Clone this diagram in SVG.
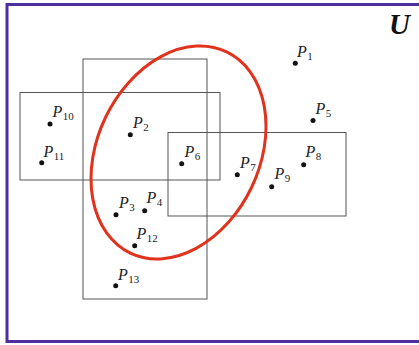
<svg xmlns="http://www.w3.org/2000/svg" width="419" height="345" viewBox="0 0 419 345">
<style>
.frame{fill:none;stroke:#4b2f9f;stroke-width:3}
.box{fill:none;stroke:#555;stroke-width:1}
.ell{fill:none;stroke:#e0321c;stroke-width:3}
.dot{fill:#111}
.lbl{font-family:"Liberation Serif",serif;font-size:16px;fill:#222}
.lbl .v{font-style:italic}
.lbl .s{font-size:11px}
.u{font-family:"Liberation Serif",serif;font-size:29px;font-weight:bold;font-style:italic;fill:#111}
</style>
<rect width="419" height="345" fill="#fff"/>
<rect class="frame" x="7" y="4.5" width="430" height="337"/>
<text class="u" x="389" y="34">U</text>
<g id="sets">
<rect id="setA" class="box" x="20" y="92.5" width="200" height="87.5"/>
<rect id="setB" class="box" x="83" y="59" width="124" height="240"/>
<rect id="setC" class="box" x="168" y="132.5" width="178" height="83.5"/>
<ellipse id="query" class="ell" cx="178.5" cy="152.5" rx="81" ry="111.5" transform="rotate(25.6 178.5 152.5)"/>
</g>
<g id="connectors"/>
<g id="P1"><circle class="dot" cx="295.3" cy="63.3" r="2.5"/><text class="lbl" x="297" y="57"><tspan class="v">P</tspan><tspan class="s" dx="0.5" dy="3">1</tspan></text></g>
<g id="P5"><circle class="dot" cx="313" cy="120.5" r="2.5"/><text class="lbl" x="315.5" y="113.5"><tspan class="v">P</tspan><tspan class="s" dx="0.5" dy="3">5</tspan></text></g>
<g id="P10"><circle class="dot" cx="50" cy="124" r="2.5"/><text class="lbl" x="52.5" y="117"><tspan class="v">P</tspan><tspan class="s" dx="0.5" dy="3">10</tspan></text></g>
<g id="P2"><circle class="dot" cx="130.3" cy="134.7" r="2.5"/><text class="lbl" x="133" y="127.5"><tspan class="v">P</tspan><tspan class="s" dx="0.5" dy="3">2</tspan></text></g>
<g id="P11"><circle class="dot" cx="41.7" cy="162.7" r="2.5"/><text class="lbl" x="43.5" y="157.3"><tspan class="v">P</tspan><tspan class="s" dx="0.5" dy="3">11</tspan></text></g>
<g id="P6"><circle class="dot" cx="181.7" cy="163.7" r="2.5"/><text class="lbl" x="184.5" y="157.3"><tspan class="v">P</tspan><tspan class="s" dx="0.5" dy="3">6</tspan></text></g>
<g id="P7"><circle class="dot" cx="237.3" cy="174.7" r="2.5"/><text class="lbl" x="240" y="168.3"><tspan class="v">P</tspan><tspan class="s" dx="0.5" dy="3">7</tspan></text></g>
<g id="P8"><circle class="dot" cx="303.7" cy="164.7" r="2.5"/><text class="lbl" x="305.5" y="157.3"><tspan class="v">P</tspan><tspan class="s" dx="0.5" dy="3">8</tspan></text></g>
<g id="P9"><circle class="dot" cx="271.7" cy="186.7" r="2.5"/><text class="lbl" x="274.5" y="178.7"><tspan class="v">P</tspan><tspan class="s" dx="0.5" dy="3">9</tspan></text></g>
<g id="P3"><circle class="dot" cx="116" cy="214.7" r="2.5"/><text class="lbl" x="119" y="208.3"><tspan class="v">P</tspan><tspan class="s" dx="0.5" dy="3">3</tspan></text></g>
<g id="P4"><circle class="dot" cx="144.7" cy="210.7" r="2.5"/><text class="lbl" x="146.5" y="202.7"><tspan class="v">P</tspan><tspan class="s" dx="0.5" dy="3">4</tspan></text></g>
<g id="P12"><circle class="dot" cx="134.7" cy="245.7" r="2.5"/><text class="lbl" x="136.5" y="239"><tspan class="v">P</tspan><tspan class="s" dx="0.5" dy="3">12</tspan></text></g>
<g id="P13"><circle class="dot" cx="115.7" cy="285.7" r="2.5"/><text class="lbl" x="118" y="280"><tspan class="v">P</tspan><tspan class="s" dx="0.5" dy="3">13</tspan></text></g>
</svg>
